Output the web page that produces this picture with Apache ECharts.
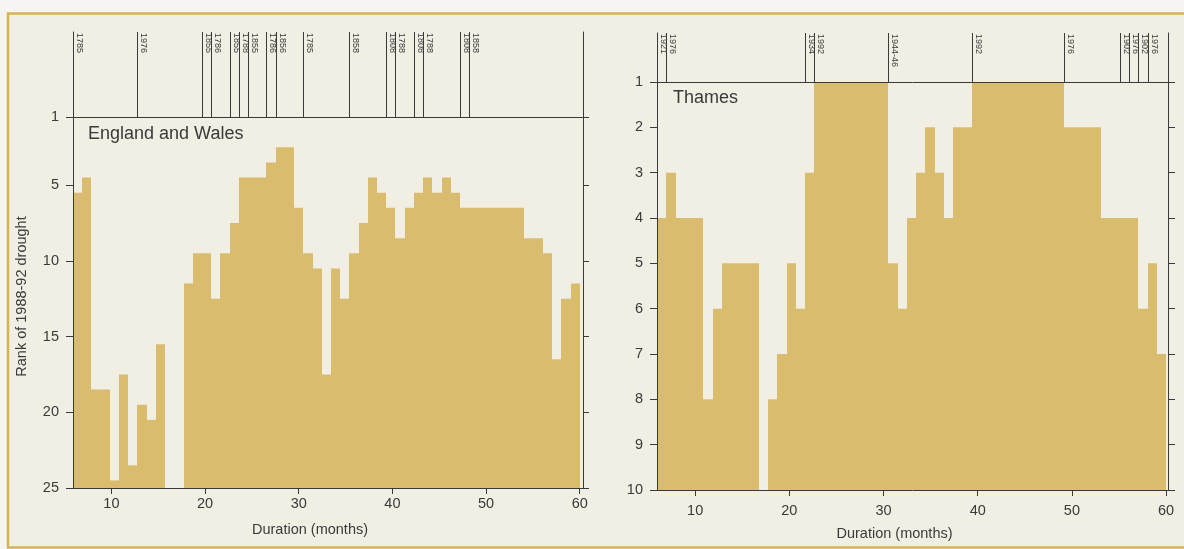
<!DOCTYPE html>
<html><head><meta charset="utf-8">
<script src="https://cdn.jsdelivr.net/npm/echarts@6/dist/echarts.min.js"></script>
<style>html,body{margin:0;padding:0;background:#f6f5f1;}#c{width:1184px;height:549px;}</style>
</head><body><div id="c"></div>
<script>
// ---- data ----
const durations = [6,7,8,9,10,11,12,13,14,15,16,17,18,19,20,21,22,23,24,25,26,27,28,29,30,31,32,33,34,35,36,37,38,39,40,41,42,43,44,45,46,47,48,49,50,51,52,53,54,55,56,57,58,59,60];
// rank of the 1988-92 drought for each duration (null = not ranked)
const ewRank = [6,5,19,19,25,18,24,20,21,16,null,null,12,10,10,13,10,8,5,5,5,4,3,3,7,10,11,18,11,13,10,8,5,6,7,9,7,6,5,6,5,6,7,7,7,7,7,7,7,9,9,10,17,13,12];
const thRank = [4,3,4,4,4,8,6,5,5,5,5,null,8,7,5,6,3,1,1,1,1,1,1,1,1,5,6,4,3,2,3,4,2,2,1,1,1,1,1,1,1,1,1,1,2,2,2,2,4,4,4,4,6,5,7];
// top-ranked drought year, starting at the given duration
const ewMarkDur = [6,13,20,21,23,24,25,27,28,31,36,40,41,43,44,48,49];
const ewMarkYear = ['1785','1976','1855','1786','1855','1788','1855','1786','1856','1785','1858','1808','1788','1808','1788','1808','1858'];
const thMarkDur = [6,7,22,23,31,40,50,56,57,58,59];
const thMarkYear = ['1921','1976','1934','1992','1944-46','1992','1976','1902','1976','1902','1976'];
const xTicks = [10,20,30,40,50,60];
const ewYTicks = [1,5,10,15,20,25];
const thYTicks = [1,2,3,4,5,6,7,8,9,10];

// ---- style ----
const FONT = '"Liberation Sans", Arial, sans-serif';
const INK = '#3a3a3a';
const BAR = '#d9bc6e';
const EW = {xMin:5.9, xMax:60.35, barEnd:60, yMin:0.5, yMax:25, off:0.5};
const TH = {xMin:5.95, xMax:60.2, barEnd:60, yMin:1, yMax:10, off:0};

const chart = echarts.init(document.getElementById('c'));

function barSeries(ranks, P, xi, yi) {
  const w = (P.barEnd - P.xMin) / durations.length;
  return {
    type:'custom', xAxisIndex:xi, yAxisIndex:yi, silent:true, z:2,
    data: durations.map((d,i)=>[d, ranks[i]]).filter(it=>it[1]!=null),
    renderItem(params, api) {
      const i = api.value(0) - durations[0];
      const r = api.value(1);
      const a = api.coord([P.xMin + i*w, r - P.off]);
      const b = api.coord([P.xMin + (i+1)*w, P.yMax]);
      const x0 = Math.round(a[0]), x1 = Math.round(b[0]);
      return {type:'rect', shape:{x:x0, y:a[1], width:x1-x0, height:b[1]-a[1]}, style:{fill:BAR}};
    }
  };
}
function markSeries(durs, years, P, xi, yi) {
  const w = (P.barEnd - P.xMin) / durations.length;
  return {
    type:'custom', xAxisIndex:xi, yAxisIndex:yi, silent:true, clip:false,
    data: durs.map(d=>[d, 1]),
    renderItem(params, api) {
      const x = P.xMin + (api.value(0) - durations[0]) * w;
      const top = api.coord([x, 1]), bot = api.coord([x, 0]);
      const px = Math.round(top[0]) + 0.5;
      return {type:'group', children:[
        {type:'line', shape:{x1:px, y1:top[1], x2:px, y2:bot[1]}, style:{stroke:INK, lineWidth:1}},
        {type:'text', x:px+1, y:top[1]+1, rotation:-Math.PI/2,
         style:{text:years[params.dataIndex], fill:INK, fontSize:9, fontFamily:FONT, align:'left', verticalAlign:'bottom'}}
      ]};
    }
  };
}
const noSplit = {show:false};
function frameY(gi, pos, min, max) {
  return {gridIndex:gi, type:'value', position:pos, min, max, z:5,
    axisLine:{show:true, lineStyle:{color:INK, width:1}}, axisTick:{show:false}, axisLabel:{show:false}, splitLine:noSplit};
}
function hiddenX(gi, P) { return {gridIndex:gi, type:'value', min:P.xMin, max:P.xMax, show:false}; }
function topX(gi, P) {
  return {gridIndex:gi, type:'value', position:'top', min:P.xMin, max:P.xMax, z:5,
    axisLine:{show:true, onZero:false, lineStyle:{color:INK}}, axisTick:{show:false}, axisLabel:{show:false}, splitLine:noSplit};
}
function bottomX(gi, P, margin, nameGap) {
  return {gridIndex:gi, type:'value', position:'bottom', min:P.xMin, max:P.xMax, z:5,
    axisLine:{show:true, onZero:false, lineStyle:{color:INK}},
    axisTick:{show:true, customValues:xTicks, length:6, lineStyle:{color:INK}},
    axisLabel:{customValues:xTicks, margin, color:INK, fontSize:14.5, fontFamily:FONT},
    splitLine:noSplit,
    name:'Duration (months)', nameLocation:'middle', nameGap,
    nameTextStyle:{color:INK, fontSize:14.5, fontFamily:FONT, padding:[0,36,0,0]}};
}
const ewTickPos = ewYTicks.map(v => v === 1 ? EW.yMin : v);

const option = {
  animation:false,
  graphic:[
    {type:'rect', z:-10, silent:true, shape:{x:8, y:13.5, width:1200, height:534},
     style:{fill:'#f1eee3', stroke:'#d6b451', lineWidth:2.5}},
    {type:'text', left:88, top:125, silent:true, z:10,
     style:{text:'England and Wales', fill:INK, fontSize:18, fontFamily:FONT}},
    {type:'text', left:673, top:89, silent:true, z:10,
     style:{text:'Thames', fill:INK, fontSize:18, fontFamily:FONT}}
  ],
  grid:[
    {left:73, top:32, width:510, height:85},
    {left:73, top:117, width:510, height:371},
    {left:657, top:33, width:511, height:49},
    {left:657, top:82, width:511, height:408}
  ],
  xAxis:[
    hiddenX(0, EW), bottomX(1, EW, 8, 34), topX(1, EW),
    hiddenX(2, TH), bottomX(3, TH, 13, 36), topX(3, TH)
  ],
  yAxis:[
    frameY(0,'left',0,1), frameY(0,'right',0,1),
    {gridIndex:1, type:'value', inverse:true, min:EW.yMin, max:EW.yMax, z:5,
     axisLine:{show:true, onZero:false, lineStyle:{color:INK}},
     axisTick:{show:true, customValues:ewTickPos, length:7, lineStyle:{color:INK}},
     axisLabel:{customValues:ewTickPos, margin:14, color:INK, fontSize:14.5, fontFamily:FONT,
                formatter:v => String(ewYTicks[ewTickPos.indexOf(v)])},
     splitLine:noSplit,
     name:'Rank of 1988-92 drought', nameLocation:'middle', nameRotate:90, nameGap:44,
     nameTextStyle:{color:INK, fontSize:14.5, fontFamily:FONT, padding:[0,0,0,12]}},
    {gridIndex:1, type:'value', inverse:true, position:'right', min:EW.yMin, max:EW.yMax, z:5,
     axisLine:{show:true, onZero:false, lineStyle:{color:INK}},
     axisTick:{show:true, customValues:ewTickPos, length:6, lineStyle:{color:INK}},
     axisLabel:{show:false}, splitLine:noSplit},
    frameY(2,'left',0,1), frameY(2,'right',0,1),
    {gridIndex:3, type:'value', inverse:true, min:TH.yMin, max:TH.yMax, interval:1, z:5,
     axisLine:{show:true, onZero:false, lineStyle:{color:INK}},
     axisTick:{show:true, customValues:thYTicks, length:7, lineStyle:{color:INK}},
     axisLabel:{customValues:thYTicks, margin:14, color:INK, fontSize:14.5, fontFamily:FONT},
     splitLine:noSplit},
    {gridIndex:3, type:'value', inverse:true, position:'right', min:TH.yMin, max:TH.yMax, interval:1, z:5,
     axisLine:{show:true, onZero:false, lineStyle:{color:INK}},
     axisTick:{show:true, customValues:thYTicks, length:7, lineStyle:{color:INK}},
     axisLabel:{show:false}, splitLine:noSplit}
  ],
  series:[
    barSeries(ewRank, EW, 1, 2),
    markSeries(ewMarkDur, ewMarkYear, EW, 0, 0),
    barSeries(thRank, TH, 4, 6),
    markSeries(thMarkDur, thMarkYear, TH, 3, 4)
  ]
};
chart.setOption(option);
</script>
</body></html>
